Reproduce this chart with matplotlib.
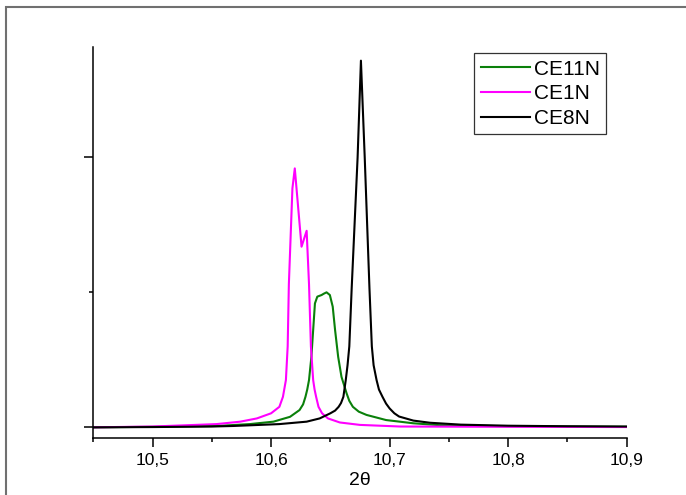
"""XRD peak comparison around 2theta = 10.6-10.7."""

import matplotlib

matplotlib.use("Agg")
import matplotlib.pyplot as plt
from matplotlib.patches import Rectangle
from matplotlib.ticker import FixedLocator, MultipleLocator

# values (arbitrary intensity units)
ce11n_x = [10.45, 10.50, 10.554, 10.582, 10.602, 10.616, 10.624, 10.627, 10.629,
           10.6305, 10.632, 10.634, 10.6355, 10.637, 10.639, 10.6426, 10.6445,
           10.6468, 10.6496, 10.652, 10.654, 10.6566, 10.6594, 10.6637, 10.666,
           10.669, 10.674, 10.6805, 10.697, 10.72, 10.742, 10.80, 10.90]
ce11n_y = [0.0, 0.002, 0.005, 0.012, 0.021, 0.039, 0.064, 0.085, 0.113,
           0.14, 0.175, 0.261, 0.36, 0.459, 0.484, 0.49, 0.495,
           0.50, 0.49, 0.447, 0.36, 0.261, 0.187, 0.126, 0.098,
           0.076, 0.058, 0.046, 0.027, 0.015, 0.008, 0.004, 0.002]

ce1n_x = [10.45, 10.50, 10.554, 10.574, 10.588, 10.600, 10.607, 10.610, 10.6125,
          10.614, 10.615, 10.618, 10.620, 10.6257, 10.630, 10.632, 10.6336,
          10.6355, 10.6367, 10.638, 10.640, 10.643, 10.648, 10.658, 10.675,
          10.709, 10.80, 10.90]
ce1n_y = [0.0, 0.003, 0.012, 0.021, 0.033, 0.052, 0.076, 0.113, 0.175,
          0.30, 0.53, 0.885, 0.959, 0.669, 0.728, 0.53, 0.30,
          0.175, 0.14, 0.113, 0.076, 0.052, 0.033, 0.018, 0.009,
          0.003, 0.002, 0.001]

ce8n_x = [10.45, 10.50, 10.55, 10.568, 10.607, 10.630, 10.641, 10.650, 10.654,
          10.657, 10.659, 10.661, 10.663, 10.6645, 10.666, 10.668, 10.673,
          10.6758, 10.679, 10.683, 10.685, 10.6865, 10.689, 10.691, 10.694,
          10.697, 10.700, 10.704, 10.708, 10.72, 10.734, 10.76, 10.80, 10.85,
          10.90]
ce8n_y = [0.0, 0.001, 0.003, 0.005, 0.012, 0.021, 0.033, 0.052, 0.062,
          0.076, 0.09, 0.113, 0.175, 0.23, 0.30, 0.515, 1.0,
          1.358, 1.0, 0.515, 0.30, 0.23, 0.175, 0.14, 0.113,
          0.088, 0.07, 0.052, 0.04, 0.025, 0.017, 0.01, 0.006, 0.004,
          0.003]

xticks = [10.5, 10.6, 10.7, 10.8, 10.9]
xtick_labels = ["10,5", "10,6", "10,7", "10,8", "10,9"]

plt.rcParams["font.family"] = ["Liberation Sans", "DejaVu Sans"]

fig = plt.figure(figsize=(6.86, 4.95), dpi=100)
ax = fig.add_axes([0.136, 0.1145, 0.7775, 0.7905])

ax.plot(ce11n_x, ce11n_y, color="#0a800a", lw=1.5, label="CE11N")
ax.plot(ce1n_x, ce1n_y, color="#ff00ff", lw=1.5, label="CE1N")
ax.plot(ce8n_x, ce8n_y, color="black", lw=1.5, label="CE8N")

ax.set_xlim(10.45, 10.9)
ax.set_ylim(-0.0407, 1.4085)

for side in ("top", "right"):
    ax.spines[side].set_visible(False)
for side in ("left", "bottom"):
    ax.spines[side].set_linewidth(1.1)

ax.xaxis.set_major_locator(FixedLocator(xticks))
ax.set_xticklabels(xtick_labels)
ax.xaxis.set_minor_locator(MultipleLocator(0.05))
ax.yaxis.set_major_locator(FixedLocator([0, 1]))
ax.yaxis.set_minor_locator(FixedLocator([0.5]))
ax.set_yticklabels([])
ax.tick_params(which="major", direction="out", length=6.5, width=1.1, labelsize=12.5, pad=4)
ax.tick_params(which="minor", direction="out", length=3.2, width=1.1)

ax.set_xlabel("2θ", fontsize=14, labelpad=3)

leg = ax.legend(loc="upper right", bbox_to_anchor=(606 / 686, 1 - 53.3 / 495),
                bbox_transform=fig.transFigure, fontsize=15, frameon=True,
                fancybox=False, borderaxespad=0, handlelength=2.35,
                handletextpad=0.2, labelspacing=0.28, borderpad=0.3)
leg.get_frame().set_edgecolor("black")
leg.get_frame().set_linewidth(0.9)

# grey frame around the whole picture
fig.patches.append(Rectangle((5.7 / 686, -0.1), 1.2, 1.1 - 7.3 / 495,
                             transform=fig.transFigure, fill=False,
                             edgecolor="#707070", lw=1.5))

fig.savefig("out.png", dpi=100)
